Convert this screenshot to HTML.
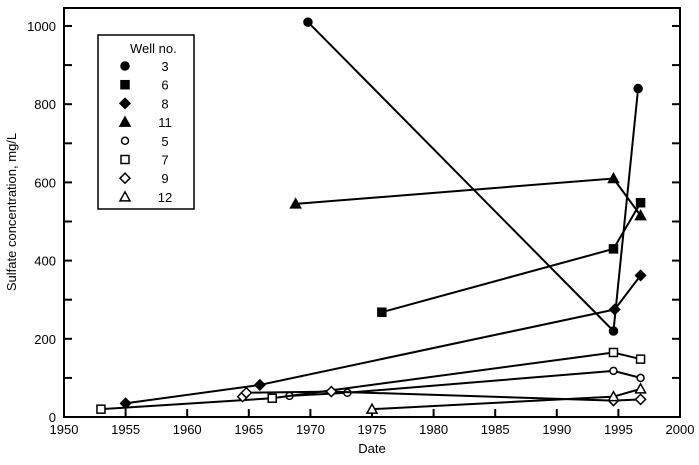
<!DOCTYPE html>
<html><head><meta charset="utf-8"><style>
body{margin:0;background:#fff}
svg text{font-family:"Liberation Sans",Arial,sans-serif;font-size:13px;fill:#000}
</style></head><body>
<svg id="chart" width="699" height="460" xmlns="http://www.w3.org/2000/svg">
<rect x="64" y="8" width="616" height="409" fill="none" stroke="#000" stroke-width="2"/>
<g id="axes"></g>
<g id="series"></g>
<text x="372" y="453" text-anchor="middle" font-size="14">Date</text>
<text transform="translate(16,212) rotate(-90)" text-anchor="middle" font-size="14">Sulfate concentration, mg/L</text>
<g id="legend">
<rect x="98" y="35" width="96" height="174" fill="#fff" stroke="#000" stroke-width="1.5"/>
<text x="130" y="53" font-size="14">Well no.</text>
</g>
</svg>
<script>
const xTicks=[1950,1955,1960,1965,1970,1975,1980,1985,1990,1995,2000];
const yTicks=[0,200,400,600,800,1000];
const wellNames=["3","6","8","11","5","7","9","12"];
const wellMarkers=["circle","square","diamond","triangle","circle","square","diamond","triangle"];
const wellFilled=[true,true,true,true,false,false,false,false];
const w3x=[1969.8,1994.6,1996.6], w3y=[1010,220,840];
const w6x=[1975.8,1994.6,1996.8], w6y=[268,430,548];
const w8x=[1955.0,1965.9,1994.7,1996.8], w8y=[35,82,275,362];
const w11x=[1968.8,1994.6,1996.8], w11y=[545,610,515];
const w5x=[1968.3,1973.0,1994.6,1996.8], w5y=[54,62,118,100];
const w7x=[1953.0,1966.9,1994.6,1996.8], w7y=[20,48,165,148];
const w9x=[1964.5,1964.8,1971.7,1994.6,1996.8], w9y=[52,62,65,42,45];
const w12x=[1975.0,1994.6,1996.8], w12y=[20,52,72];
const seriesX=[w3x,w6x,w8x,w11x,w5x,w7x,w9x,w12x];
const seriesY=[w3y,w6y,w8y,w11y,w5y,w7y,w9y,w12y];
const NS="http://www.w3.org/2000/svg";
const X=v=>64+(v-1950)*616/50;
const Y=v=>417-v*0.391;
function mk(tag,attrs,parent){const e=document.createElementNS(NS,tag);for(const k in attrs)e.setAttribute(k,attrs[k]);parent.appendChild(e);return e;}
const axes=document.getElementById('axes');
xTicks.forEach(t=>{
  const l=mk('line',{x1:X(t),x2:X(t),y1:417,y2:409,stroke:'#000','stroke-width':2},axes);
  
  
  const tx=mk('text',{x:X(t),y:434,'text-anchor':'middle'},axes);tx.textContent=t;
  
  
});
for(let v=0;v<=1050;v+=100){
  const l=mk('line',{x1:64,x2:72,y1:Y(v),y2:Y(v),stroke:'#000','stroke-width':2},axes);
  
  
  const r=mk('line',{x1:672,x2:680,y1:Y(v),y2:Y(v),stroke:'#000','stroke-width':2},axes);
  
  
}
yTicks.forEach(t=>{
  const tx=mk('text',{x:56,y:Y(t)+5,'text-anchor':'end'},axes);tx.textContent=t;
  
  
});
function marker(type,filled,cx,cy,parent){
  const st={fill:filled?'#000':'#fff',stroke:'#000','stroke-width':1.5};
  let e;
  if(type==='circle')e=mk('circle',Object.assign({cx:cx,cy:cy,r:filled?4:3.5},st),parent);
  else if(type==='square')e=mk('rect',Object.assign({x:cx-4,y:cy-4,width:8,height:8},st),parent);
  else if(type==='diamond')e=mk('polygon',Object.assign({points:`${cx},${cy-5} ${cx+5},${cy} ${cx},${cy+5} ${cx-5},${cy}`},st),parent);
  else e=mk('polygon',Object.assign({points:`${cx},${cy-5} ${cx+5},${cy+4} ${cx-5},${cy+4}`},st),parent);
  return e;
}
const sg=document.getElementById('series');
seriesX.forEach((xs,i)=>{
  const g=mk('g',{},sg);
  
  
  const pl=mk('polyline',{points:xs.map((x,j)=>X(x)+','+Y(seriesY[i][j])).join(' '),fill:'none',stroke:'#000','stroke-width':2},g);
  
  
  xs.forEach((x,j)=>{
    const m=marker(wellMarkers[i],wellFilled[i],X(x),Y(seriesY[i][j]),g);
    
    
  });
});
const lg=document.getElementById('legend');
wellNames.forEach((n,i)=>{
  const y=66+i*18.7;
  const m=marker(wellMarkers[i],wellFilled[i],125,y,lg);
  
  
  const t=mk('text',{x:165,y:y+5,'text-anchor':'middle','font-size':'14'},lg);t.textContent=n;
  
  
});
</script>
</body></html>
